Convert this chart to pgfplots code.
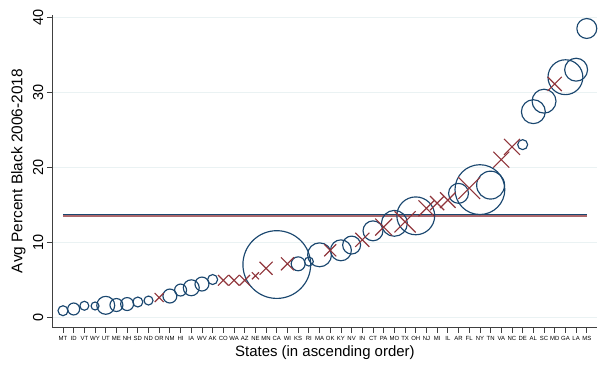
\documentclass[border=0pt]{standalone}
\usepackage{fontspec}
\setmainfont{Liberation Sans}
\usepackage{pgfplots}
\usepackage{pgfplotstable}
\pgfplotsset{compat=1.18}
\definecolor{snavy}{RGB}{26,71,111}
\definecolor{smaroon}{RGB}{144,53,59}
\definecolor{sgrid}{RGB}{234,242,243}

% circles: x index, y value, radius (bp)
\pgfplotstableread{
x y s
1 0.84 5
2 1.07 6
3 1.5 4.5
4 1.47 4
5 1.56 9
6 1.6 6.5
7 1.73 6.5
8 2.0 5
9 2.2 4.5
11 2.8 7
12 3.6 6
13 3.9 8
14 4.4 7
15 5.0 5
21 7.0 34
23 7.1 7
24 7.4 4.5
25 8.3 12
27 8.9 10.5
28 9.6 9
30 11.5 10
32 12.5 13
34 13.5 19
38 16.5 10
40 17.0 25
41 17.6 14
44 23.0 5
45 27.4 12
46 28.8 12
48 32.0 17.5
49 33.0 11.5
50 38.5 10
}\circdata

% crosses: x index, y value, mark size
\pgfplotstableread{
x y s
10 2.6 6.4
16 4.9 7.5
17 4.9 7.5
18 4.9 7.5
19 5.5 5
20 6.5 9.2
22 7.1 9.2
26 8.9 8.5
29 10.3 10
31 12.0 12
33 12.7 15
35 14.5 11.3
36 15.2 10
37 15.6 11
39 17.2 15.5
42 21.0 11.3
43 22.7 11.3
47 31.1 10
}\crossdata

\begin{document}
\begin{tikzpicture}
\begin{axis}[
  at={(52.3bp,38bp)}, anchor=south west,
  scale only axis, width=545.2bp, height=312bp,
  xmin=0, xmax=51, ymin=-1.333, ymax=40.3,
  axis x line=bottom, axis y line=left,
  axis line style={-, line width=0.8bp, black!75},
  xtick={1,...,50},
  xticklabels={MT,ID,VT,WY,UT,ME,NH,SD,ND,OR,NM,HI,IA,WV,AK,CO,WA,AZ,NE,MN,CA,WI,KS,RI,MA,OK,KY,NV,IN,CT,PA,MO,TX,OH,NJ,MI,IL,AR,FL,NY,TN,VA,NC,DE,AL,SC,MD,GA,LA,MS},
  ytick={0,10,20,30,40},
  ymajorgrids, major grid style={sgrid, line width=1bp},
  tick align=outside, major tick length=5.5bp,
  tick style={black!75, line width=0.8bp},
  xticklabel style={font=\fontsize{6}{6}\selectfont, inner sep=1bp, yshift=-3bp},
  yticklabel style={rotate=90, anchor=south, font=\fontsize{14.5}{14.5}\selectfont},
  /pgf/number format/assume math mode=true,
  xlabel={States (in ascending order)},
  ylabel={Avg Percent Black 2006-2018},
  xlabel style={at={(axis description cs:0.5,-0.0833)}, anchor=center, font=\fontsize{15}{15}\selectfont},
  ylabel style={at={(axis description cs:-0.0624,0.5)}, anchor=center, font=\fontsize{15.5}{15.5}\selectfont},
  clip=false,
]
\addplot[snavy, line width=1.2bp] coordinates {(1,13.7) (50,13.7)};
\addplot[smaroon!75, line width=1.2bp] coordinates {(1,13.48) (50,13.48)};
\addplot[scatter, only marks, mark=o, line width=1.15bp,
  scatter/use mapped color={draw=snavy, fill=snavy},
  visualization depends on={\thisrow{s} \as \rad},
  scatter/@pre marker code/.append style={/tikz/mark size=\rad}]
  table[x=x, y=y] {\circdata};
\addplot[scatter, only marks, mark=x, line width=1.15bp,
  scatter/use mapped color={draw=smaroon, fill=smaroon},
  visualization depends on={\thisrow{s} \as \rad},
  scatter/@pre marker code/.append style={/tikz/mark size=\rad}]
  table[x=x, y=y] {\crossdata};
\end{axis}
\pgfresetboundingbox
\useasboundingbox (0,0) rectangle (601bp,365bp);
\end{tikzpicture}
\end{document}
